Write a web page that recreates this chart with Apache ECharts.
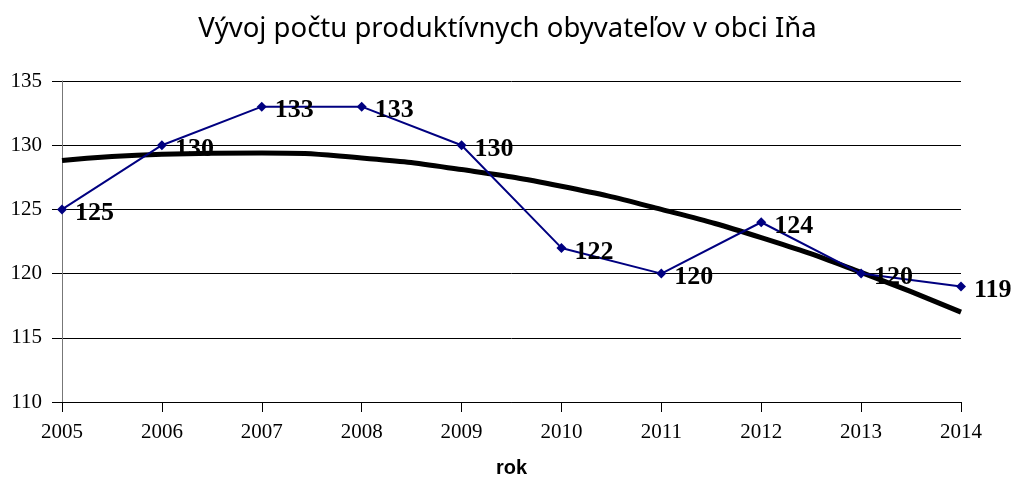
<!DOCTYPE html>
<html>
<head>
<meta charset="utf-8">
<script src="https://cdn.jsdelivr.net/npm/echarts@6/dist/echarts.min.js"></script>
<style>
  html, body { margin: 0; padding: 0; background: #fff; }
  #main { width: 1015px; height: 477px; }
</style>
</head>
<body>
<div id="main"></div>
<script>
// roky a hodnoty
const roky = ['2005', '2006', '2007', '2008', '2009', '2010', '2011', '2012', '2013', '2014']
const obyvatelia = [125, 130, 133, 133, 130, 122, 120, 124, 120, 119]
// polynomicky trend (odcitany z grafu)
const trend = [128.8, 129.3, 129.4, 129.0, 128.1, 126.8, 125.0, 122.8, 120.1, 117.0]
const yTicks = [110, 115, 120, 125, 130, 135]

let myChart = echarts.init(document.getElementById('main'))
let option = {
  animation: false,
  title: {
    text: 'Vývoj počtu produktívnych obyvateľov v obci Iňa',
    left: 'center',
    top: 10,
    textStyle: { fontFamily: 'Noto Sans', fontWeight: 'normal', fontSize: 27.5, color: '#000' },
  },
  grid: { left: 62, right: 54, top: 81, bottom: 75, outerBoundsMode: 'none', containLabel: false },
  xAxis: {
    type: 'category',
    data: roky,
    boundaryGap: false,
    name: 'rok',
    nameLocation: 'middle',
    nameGap: 56,
    nameTextStyle: { fontFamily: 'Liberation Sans', fontWeight: 'bold', fontSize: 20, color: '#000' },
    axisLine: { lineStyle: { color: '#000', width: 1 } },
    axisTick: { show: true, length: 10, inside: false, lineStyle: { color: '#000' } },
    axisLabel: { fontFamily: 'Liberation Serif', fontSize: 21, color: '#000', margin: 20 },
    splitLine: { show: false },
  },
  yAxis: {
    type: 'value',
    min: yTicks[0],
    max: yTicks[yTicks.length - 1],
    interval: 5,
    axisLine: { show: true, lineStyle: { color: '#777', width: 1 } },
    axisTick: { show: true, length: 10, lineStyle: { color: '#000' } },
    axisLabel: { fontFamily: 'Liberation Serif', fontSize: 21, color: '#000', margin: 20 },
    splitLine: { show: true, lineStyle: { color: '#000', width: 1 } },
  },
  series: [
    {
      name: 'obyvatelia',
      type: 'line',
      data: obyvatelia,
      symbol: 'diamond',
      symbolSize: 10,
      z: 3,
      lineStyle: { color: '#000080', width: 2 },
      itemStyle: { color: '#000080' },
      label: {
        show: true,
        position: 'right',
        distance: 8,
        offset: [0, 4],
        fontFamily: 'Liberation Serif',
        fontWeight: 'bold',
        fontSize: 26,
        color: '#000',
      },
    },
    {
      name: 'trend',
      type: 'line',
      data: trend,
      smooth: true,
      symbol: 'none',
      z: 2,
      lineStyle: { color: '#000', width: 5 },
    },
  ],
}
myChart.setOption(option) // vykreslenie
</script>
</body>
</html>
